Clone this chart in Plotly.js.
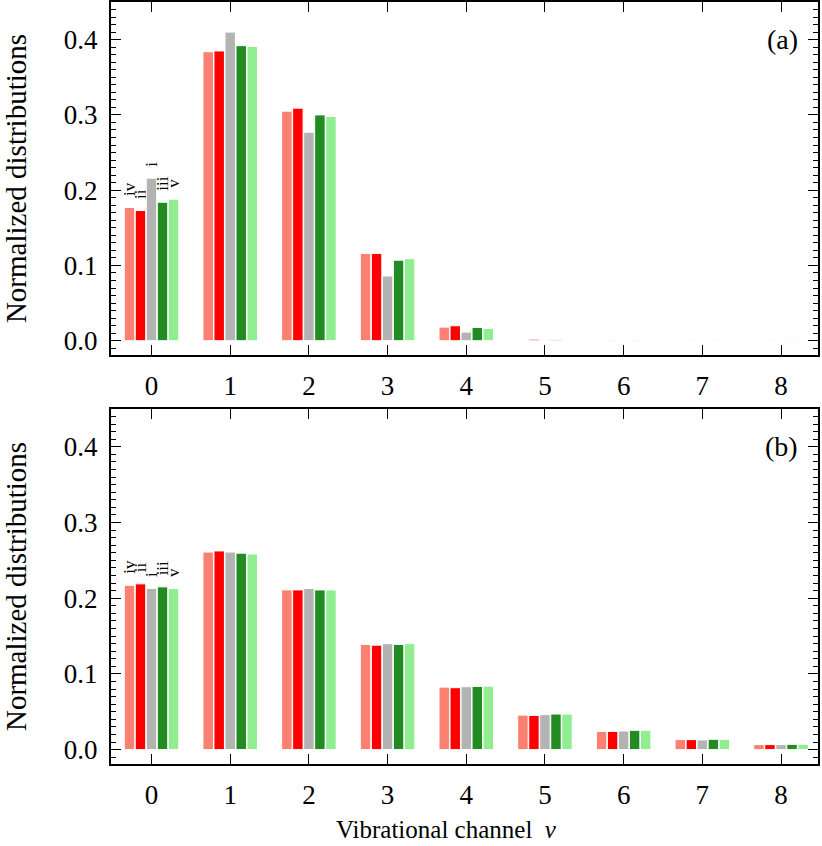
<!DOCTYPE html>
<html lang="en">
<head>
<meta charset="UTF-8" />
<title>Normalized vibrational distributions</title>
<script src="https://cdn.plot.ly/plotly-3.0.1.min.js"></script>
<style>
  body { margin: 0; background: #fff; }
  #chart { width: 822px; height: 846px; }
</style>
</head>
<body>
<div id="chart"></div>
<script>
  const channels = [0, 1, 2, 3, 4, 5, 6, 7, 8];
  const seriesNames = ['iv', 'ii', 'i', 'iii', 'v'];
  const seriesColors = ['#fa8072', '#ff0000', '#b3b3b3', '#228b22', '#90ee90'];

  // panel (a)
  const aIV  = [0.177, 0.384, 0.305, 0.116, 0.0181, 0, 0, 0, 0];
  const aII  = [0.173, 0.385, 0.309, 0.116, 0.0199, 0.0020, 0.0008, 0.0007, 0.0007];
  const aI   = [0.216, 0.410, 0.277, 0.086, 0.0115, 0.0010, 0.0005, 0, 0];
  const aIII = [0.184, 0.392, 0.300, 0.107, 0.0177, 0.0015, 0.0008, 0.0007, 0.0007];
  const aV   = [0.188, 0.391, 0.298, 0.109, 0.0163, 0, 0, 0, 0];

  // panel (b)
  const bIV  = [0.217, 0.2610, 0.211, 0.139, 0.0826, 0.0456, 0.0241, 0.0132, 0.0066];
  const bII  = [0.219, 0.2625, 0.211, 0.138, 0.0818, 0.0452, 0.0241, 0.0132, 0.0066];
  const bI   = [0.213, 0.2610, 0.213, 0.140, 0.0831, 0.0462, 0.0246, 0.0128, 0.0066];
  const bIII = [0.215, 0.2595, 0.211, 0.139, 0.0835, 0.0470, 0.0255, 0.0136, 0.0070];
  const bV   = [0.213, 0.2585, 0.211, 0.140, 0.0839, 0.0470, 0.0255, 0.0136, 0.0070];

  const serif = '"Liberation Serif", "DejaVu Serif", serif';

  function makeTraces(sets, xa, ya) {
    return sets.map((vals, k) => ({
      type: 'bar',
      x: channels,
      y: vals,
      xaxis: xa,
      yaxis: ya,
      name: seriesNames[k],
      marker: { color: seriesColors[k], line: { color: '#ffffff', width: 1 } },
      // series label sits above the first bar only
      text: channels.map(c => c === 0 ? '\u00a0\u00a0' + seriesNames[k] : ''),
      textposition: 'outside',
      textangle: -90,
      constraintext: 'none',
      cliponaxis: false,
      textfont: { family: serif, size: 17, color: '#000' },
      showlegend: false
    }));
  }

  const traces = [
    ...makeTraces([aIV, aII, aI, aIII, aV], 'x', 'y'),
    ...makeTraces([bIV, bII, bI, bIII, bV], 'x2', 'y2')
  ];

  // fresh objects per axis (sharing nested objects between axes broke the ticks)
  function xAxis(anchor) {
    return {
      anchor: anchor,
      range: [-0.515, 8.47],
      tickvals: channels,
      ticks: 'inside',
      ticklen: 10,
      tickcolor: '#000',
      showline: true,
      linecolor: '#000',
      linewidth: 2,
      mirror: 'ticks',
      showgrid: false,
      zeroline: false,
      ticklabelstandoff: 6,
      tickfont: { family: serif, size: 27, color: '#000' }
    };
  }
  function yAxis(anchor, domain) {
    return {
      anchor: anchor,
      domain: domain,
      range: [-0.019, 0.45],
      tick0: 0,
      dtick: 0.1,
      tickformat: '.1f',
      ticks: 'inside',
      ticklen: 10,
      tickcolor: '#000',
      minor: { dtick: 0.01, ticks: 'inside', ticklen: 5, tickcolor: '#000' },
      showline: true,
      linecolor: '#000',
      linewidth: 2,
      mirror: 'ticks',
      showgrid: false,
      zeroline: false,
      ticklabelstandoff: 6,
      tickfont: { family: serif, size: 27, color: '#000' },
      title: { text: 'Normalized distributions', font: { family: serif, size: 29, color: '#000' }, standoff: 30 }
    };
  }

  function label(text, y) {
    return { text: text, xref: 'paper', yref: 'paper', x: 0.975, y: y, xanchor: 'right', yanchor: 'middle',
      showarrow: false, font: { family: serif, size: 28, color: '#000' } };
  }

  const layout = {
    width: 822,
    height: 846,
    margin: { l: 111, r: 4, t: 2, b: 82 },
    barmode: 'group',
    bargap: 0.3,
    bargroupgap: 0.05,
    xaxis: xAxis('y'),
    yaxis: yAxis('x', [0.5367, 1]),
    xaxis2: xAxis('y2'),
    yaxis2: yAxis('x2', [0, 0.4659]),
    annotations: [
      label('(a)', 0.9514),
      label('(b)', 0.4173),
      { text: 'Vibrational channel  <i>v</i>', xref: 'paper', yref: 'paper', x: 0.474, y: -0.086,
        xanchor: 'center', yanchor: 'middle', showarrow: false,
        font: { family: serif, size: 25, color: '#000' } }
    ]
  };

  Plotly.newPlot('chart', traces, layout, { displayModeBar: false, staticPlot: true });
</script>
</body>
</html>
